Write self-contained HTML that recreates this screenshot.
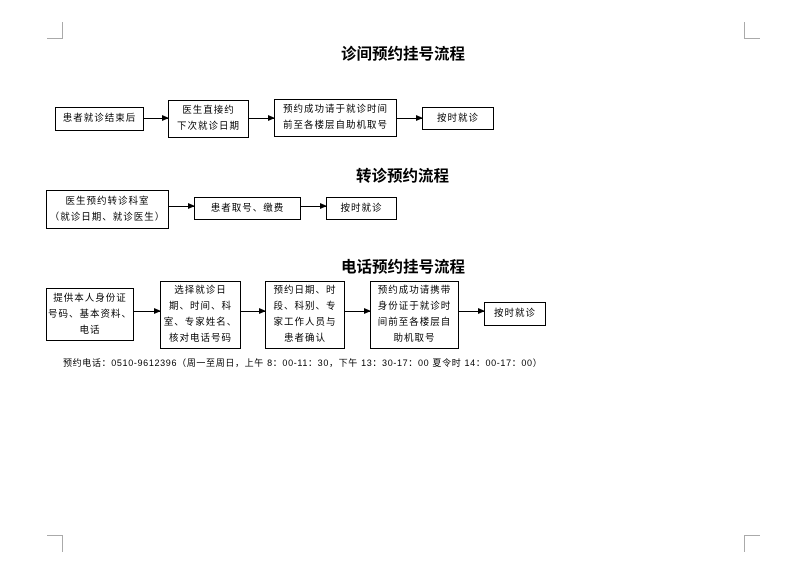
<!DOCTYPE html>
<html><head><meta charset="utf-8"><style>
body{margin:0;width:807px;height:573px;background:#fff;position:relative;overflow:hidden;font-family:"Liberation Sans","Noto Sans CJK SC",sans-serif;color:#000}
.b{position:absolute;border:1px solid #000;box-sizing:border-box;display:flex;align-items:center;justify-content:center;text-align:center;font-size:9.5px;line-height:16px;letter-spacing:1px}
.t{position:absolute;font-size:15.5px;font-weight:bold;font-family:"Noto Sans CJK SC",sans-serif;white-space:nowrap}
.a{position:absolute;height:1px;background:#000}
.a:after{content:"";position:absolute;right:-1px;top:-3px;border-left:7px solid #000;border-top:3.5px solid transparent;border-bottom:3.5px solid transparent}
.c{position:absolute;background:#aaa}
</style></head><body>
<div class="c" style="left:47px;top:38px;width:16px;height:1px"></div>
<div class="c" style="left:62px;top:22px;width:1px;height:17px"></div>
<div class="c" style="left:744px;top:38px;width:16px;height:1px"></div>
<div class="c" style="left:744px;top:22px;width:1px;height:17px"></div>
<div class="c" style="left:47px;top:535px;width:16px;height:1px"></div>
<div class="c" style="left:62px;top:535px;width:1px;height:17px"></div>
<div class="c" style="left:744px;top:535px;width:16px;height:1px"></div>
<div class="c" style="left:744px;top:535px;width:1px;height:17px"></div>

<div class="t" style="left:341px;top:42px">诊间预约挂号流程</div>
<div class="b" style="left:55px;top:107px;width:89px;height:24px">患者就诊结束后</div>
<div class="a" style="left:144px;top:118px;width:24px"></div>
<div class="b" style="left:168px;top:100px;width:81px;height:38px">医生直接约<br>下次就诊日期</div>
<div class="a" style="left:249px;top:118px;width:25px"></div>
<div class="b" style="left:274px;top:99px;width:123px;height:38px">预约成功请于就诊时间<br>前至各楼层自助机取号</div>
<div class="a" style="left:397px;top:118px;width:25px"></div>
<div class="b" style="left:422px;top:107px;width:72px;height:23px">按时就诊</div>

<div class="t" style="left:356px;top:164px">转诊预约流程</div>
<div class="b" style="left:46px;top:190px;width:123px;height:39px">医生预约转诊科室<br>（就诊日期、就诊医生）</div>
<div class="a" style="left:169px;top:206px;width:25px"></div>
<div class="b" style="left:194px;top:197px;width:107px;height:23px">患者取号、缴费</div>
<div class="a" style="left:301px;top:206px;width:25px"></div>
<div class="b" style="left:326px;top:197px;width:71px;height:23px">按时就诊</div>

<div class="t" style="left:341px;top:255px">电话预约挂号流程</div>
<div class="b" style="left:46px;top:288px;width:88px;height:53px">提供本人身份证<br>号码、基本资料、<br>电话</div>
<div class="a" style="left:134px;top:311px;width:26px"></div>
<div class="b" style="left:160px;top:281px;width:81px;height:68px">选择就诊日<br>期、时间、科<br>室、专家姓名、<br>核对电话号码</div>
<div class="a" style="left:241px;top:311px;width:24px"></div>
<div class="b" style="left:265px;top:281px;width:80px;height:68px">预约日期、时<br>段、科别、专<br>家工作人员与<br>患者确认</div>
<div class="a" style="left:345px;top:311px;width:25px"></div>
<div class="b" style="left:370px;top:281px;width:89px;height:68px">预约成功请携带<br>身份证于就诊时<br>间前至各楼层自<br>助机取号</div>
<div class="a" style="left:459px;top:311px;width:25px"></div>
<div class="b" style="left:484px;top:302px;width:62px;height:24px">按时就诊</div>

<div style="position:absolute;left:63px;top:356px;font-size:9px;white-space:nowrap;letter-spacing:0.65px">预约电话：0510-9612396（周一至周日，上午 8：00-11：30，下午 13：30-17：00 夏令时 14：00-17：00）</div>
</body></html>
